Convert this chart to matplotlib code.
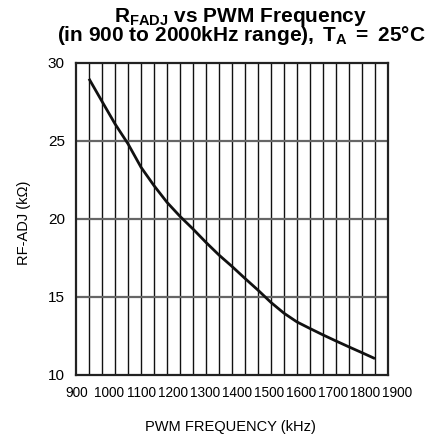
import matplotlib
matplotlib.use("Agg")
import matplotlib.pyplot as plt
import numpy as np

plt.rcParams['font.family'] = ['Liberation Sans', 'DejaVu Sans']
plt.rcParams['mathtext.fontset'] = 'custom'
plt.rcParams['mathtext.rm'] = 'Liberation Sans'
plt.rcParams['mathtext.bf'] = 'Liberation Sans:bold'
plt.rcParams['mathtext.it'] = 'Liberation Sans:italic'

# Data
freq_khz = [900, 950, 1000, 1050, 1100, 1150, 1200, 1250, 1300, 1350, 1400, 1450,
            1500, 1550, 1600, 1650, 1700, 1750, 1800, 1850, 1900, 1950, 2000]
rfadj_kohm = [28.99, 27.54, 26.10, 24.82, 23.32, 22.14, 21.07, 20.17, 19.36, 18.50,
              17.69, 16.96, 16.19, 15.44, 14.65, 13.96, 13.40, 12.98, 12.57, 12.18,
              11.80, 11.43, 11.05]
x_tick_labels = ['900', '1000', '1100', '1200', '1300', '1400', '1500', '1600',
                 '1700', '1800', '1900']
y_ticks = [10, 15, 20, 25, 30]

fig = plt.figure(figsize=(4.32, 4.38), dpi=100)
ax = fig.add_axes([76/432, 1-375/438, 312/432, 312/438])

ax.set_xlim(850, 2050)
ax.set_ylim(10, 30)

# vertical grid every 50 kHz
for xv in np.arange(900, 2050, 50):
    ax.axvline(xv, color='#111111', lw=1.0, zorder=1)
for yv in y_ticks[1:-1]:
    ax.axhline(yv, color='#666666', lw=1.6, zorder=1)

ax.plot(freq_khz, rfadj_kohm, color='#111111', lw=2.0, zorder=3,
        solid_capstyle='butt')

for s in ax.spines.values():
    s.set_linewidth(1.6)
    s.set_color('#222222')

ax.set_yticks(y_ticks)
ax.set_yticklabels([str(v) for v in y_ticks], fontsize=11)
ax.tick_params(axis='y', length=0, pad=8)
ax.set_xticks([])

n = len(x_tick_labels)
x0, x1 = (77-76)/312, (397-76)/312
for i, lab in enumerate(x_tick_labels):
    ax.text(x0 + (x1-x0)*i/(n-1), -0.058, lab, transform=ax.transAxes,
            ha='center', va='center', fontsize=9.8)

fig.text(24.5/432, 1-223/438, 'RF-ADJ (kΩ)', rotation=90, ha='center', va='center',
         fontsize=10.5)
fig.text(230/432, 1-427/438, 'PWM FREQUENCY (kHz)', ha='center', va='center', fontsize=10.5)

fig.text(241/432, 1-17/438, r'$\mathbf{R_{FADJ}\ vs\ PWM\ Frequency}$',
         ha='center', va='center', fontsize=15)
fig.text(241/432, 1-35.5/438, r'$\mathbf{(in\ 900\ to\ 2000kHz\ range),\ T_{A}\ =\ 25°C}$',
         ha='center', va='center', fontsize=15)

fig.savefig('out.png', dpi=100)
